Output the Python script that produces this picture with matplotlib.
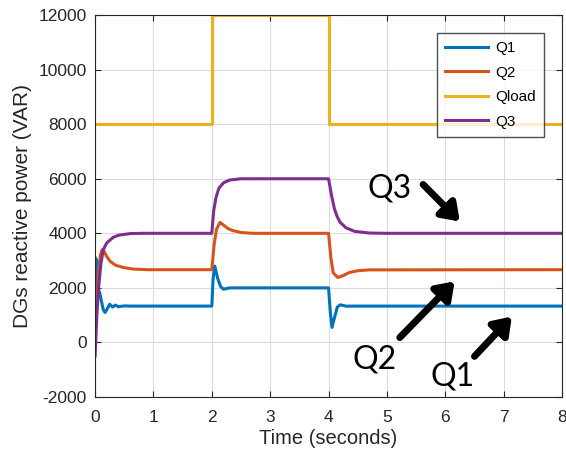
import numpy as np
import matplotlib
matplotlib.use("Agg")
import matplotlib.pyplot as plt

plt.rcParams['font.family'] = ['Liberation Sans', 'DejaVu Sans']
plt.rcParams['axes.unicode_minus'] = False

# values (time in s, reactive power in VAR)
t_load = [0, 2, 2, 4, 4, 8]
q_load = [8000, 8000, 12000, 12000, 8000, 8000]

t_q1 = [0, 0.01, 0.02, 0.03, 0.05, 0.08, 0.11, 0.14, 0.17, 0.2, 0.25, 0.3, 0.35, 0.4, 0.5, 0.6,
        2.0, 2.02, 2.05, 2.1, 2.15, 2.2, 2.3, 2.5,
        4.0, 4.03, 4.06, 4.1, 4.15, 4.2, 4.3, 4.5, 8.0]
q1 = [0, 3100, 2100, 3000, 2000, 1800, 1500, 1200, 1100, 1200, 1400, 1300, 1370, 1310, 1340, 1333,
      1333, 2300, 2800, 2350, 2050, 1950, 2000, 2000,
      2000, 1100, 550, 900, 1300, 1380, 1330, 1333, 1333]

t_q2 = [0, 0.03, 0.06, 0.09, 0.12, 0.15, 0.2, 0.26, 0.35, 0.48, 0.65, 0.9,
        2.0, 2.04, 2.08, 2.14, 2.2, 2.28, 2.36, 2.5, 2.7,
        4.0, 4.04, 4.08, 4.16, 4.25, 4.35, 4.5, 4.7, 8.0]
q2 = [400, 1500, 2600, 3200, 3400, 3350, 3150, 2970, 2830, 2750, 2690, 2667,
      2667, 3600, 4150, 4400, 4300, 4170, 4100, 4030, 4000,
      4000, 3100, 2550, 2380, 2450, 2560, 2630, 2660, 2667]

t_q3 = [0, 0.03, 0.06, 0.1, 0.14, 0.2, 0.31, 0.4, 0.6, 0.8,
        2.0, 2.03, 2.07, 2.12, 2.2, 2.3, 2.5,
        4.0, 4.05, 4.1, 4.15, 4.2, 4.3, 4.45, 4.7, 5.0, 8.0]
q3 = [-500, 1000, 2000, 2900, 3400, 3650, 3850, 3930, 3990, 4000,
      4000, 4800, 5300, 5650, 5850, 5950, 6000,
      6000, 5400, 4900, 4600, 4400, 4200, 4070, 4010, 4000, 4000]

fig = plt.figure(figsize=(5.66, 4.63), dpi=100)
ax = fig.add_axes([0.168, 0.1425, 0.825, 0.825])

ax.plot(t_q1, q1, color='#0072BD', lw=2.2, label='Q1')
ax.plot(t_q2, q2, color='#D95319', lw=2.2, label='Q2')
ax.plot(t_load, q_load, color='#EDB120', lw=2.2, label='Qload')
ax.plot(t_q3, q3, color='#7E2F8E', lw=2.2, label='Q3')

ax.set_xlim(0, 8)
ax.set_ylim(-2000, 12000)
ax.set_xticks(range(0, 9))
ax.set_yticks(range(-2000, 12001, 2000))
ax.grid(True, color='#dcdcdc', lw=0.8)
ax.tick_params(direction='in', top=True, right=True, labelsize=12.5, colors='#262626', length=4)
ax.tick_params(axis='x', pad=9)
ax.tick_params(axis='y', pad=6)
for s in ax.spines.values():
    s.set_color('#262626')
ax.set_xlabel('Time (seconds)', fontsize=14.5, color='#262626', labelpad=3)
ax.set_ylabel('DGs reactive power (VAR)', fontsize=15, color='#262626', labelpad=5)

leg = ax.legend(loc='upper right', bbox_to_anchor=(0.961, 0.953), borderaxespad=0, fontsize=11,
                fancybox=False, handlelength=2.8, handletextpad=0.45, borderpad=0.55,
                labelspacing=0.68)
leg.get_frame().set_edgecolor('#262626')
leg.get_frame().set_linewidth(1)

# annotations
arrow = dict(arrowstyle='-|>,head_length=0.5,head_width=0.35', lw=5, color='black',
             mutation_scale=20, shrinkA=0, shrinkB=0)
ax.annotate('', xy=(6.25, 4430), xytext=(5.62, 5790), arrowprops=arrow)
ax.annotate('', xy=(6.16, 2240), xytext=(5.22, 180), arrowprops=arrow)
ax.annotate('', xy=(7.14, 950), xytext=(6.5, -510), arrowprops=arrow)
ax.text(5.05, 5650, 'Q3', fontsize=23, ha='center', va='center', family='Lato')
ax.text(4.78, -620, 'Q2', fontsize=23, ha='center', va='center', family='Lato')
ax.text(6.13, -1250, 'Q1', fontsize=23, ha='center', va='center', family='Lato')

fig.savefig('out.png', dpi=100)
